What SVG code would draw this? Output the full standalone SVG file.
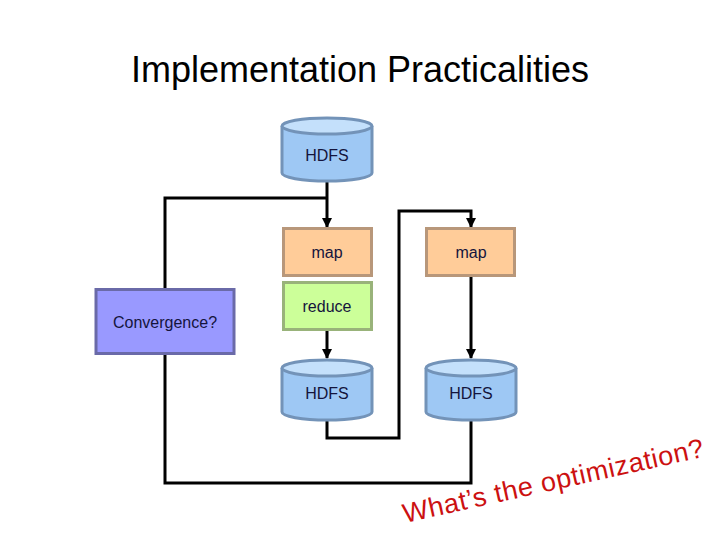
<svg xmlns="http://www.w3.org/2000/svg" width="720" height="540" viewBox="0 0 720 540">
<style>
.t{font-family:"Liberation Sans",Arial,sans-serif;fill:#14143c;text-anchor:middle}
.n{font-size:16px}
.c{stroke:#000;stroke-width:3;fill:none}
.cylb{fill:#9ec8f4;stroke:#7393b8;stroke-width:3}
.cylt{fill:#c4e0fb;stroke:#7393b8;stroke-width:3}
.map{fill:#ffcc99;stroke:#b8977a;stroke-width:3}
.red{fill:#ccff99;stroke:#99b37a;stroke-width:3}
.conv{fill:#9999ff;stroke:#6a6aa8;stroke-width:3}
</style>
<defs>
<marker id="ah" markerWidth="10" markerHeight="10" refX="9" refY="5" orient="auto" markerUnits="userSpaceOnUse">
<path d="M0,0 L10,5 L0,10 Z" fill="#000"/>
</marker>
</defs>
<rect width="720" height="540" fill="#fff"/>
<text x="360" y="82" class="t" style="font-size:36px;fill:#000">Implementation Practicalities</text>
<g id="connectors">
<path class="c" d="M327,181 V227" marker-end="url(#ah)"/>
<path class="c" d="M327,198 H165 V483 H471 V421"/>
<path class="c" d="M327,421 V438 H399 V211 H471 V227" marker-end="url(#ah)"/>
<path class="c" d="M327,331 V358" marker-end="url(#ah)"/>
<path class="c" d="M471,277 V358" marker-end="url(#ah)"/>
</g>
<g id="hdfs-top">
<path class="cylb" d="M282,126 V173 A45,8 0 0 0 372,173 V126"/>
<ellipse class="cylt" cx="327" cy="126" rx="45" ry="8"/>
<text x="327" y="161" class="t n">HDFS</text>
</g>
<g id="map-left">
<rect class="map" x="283.5" y="228.5" width="88" height="47"/>
<text x="327" y="258" class="t n">map</text>
</g>
<g id="reduce">
<rect class="red" x="283.5" y="282.5" width="88" height="47"/>
<text x="327" y="312" class="t n">reduce</text>
</g>
<g id="map-right">
<rect class="map" x="426.5" y="228.5" width="88" height="47"/>
<text x="471" y="258" class="t n">map</text>
</g>
<g id="hdfs-left">
<path class="cylb" d="M282,368 V412 A45,8 0 0 0 372,412 V368"/>
<ellipse class="cylt" cx="327" cy="368" rx="45" ry="8"/>
<text x="327" y="399" class="t n">HDFS</text>
</g>
<g id="hdfs-right">
<path class="cylb" d="M426,368 V412 A45,8 0 0 0 516,412 V368"/>
<ellipse class="cylt" cx="471" cy="368" rx="45" ry="8"/>
<text x="471" y="399" class="t n">HDFS</text>
</g>
<g id="convergence">
<rect class="conv" x="96" y="289.5" width="138" height="64"/>
<text x="165" y="328" class="t n">Convergence?</text>
</g>
<text x="0" y="0" transform="translate(405,523) rotate(-12.5)" style="font-family:'Liberation Sans',Arial,sans-serif;font-size:27px;letter-spacing:0.6px;fill:#cc1111">What’s the optimization?</text>
</svg>
